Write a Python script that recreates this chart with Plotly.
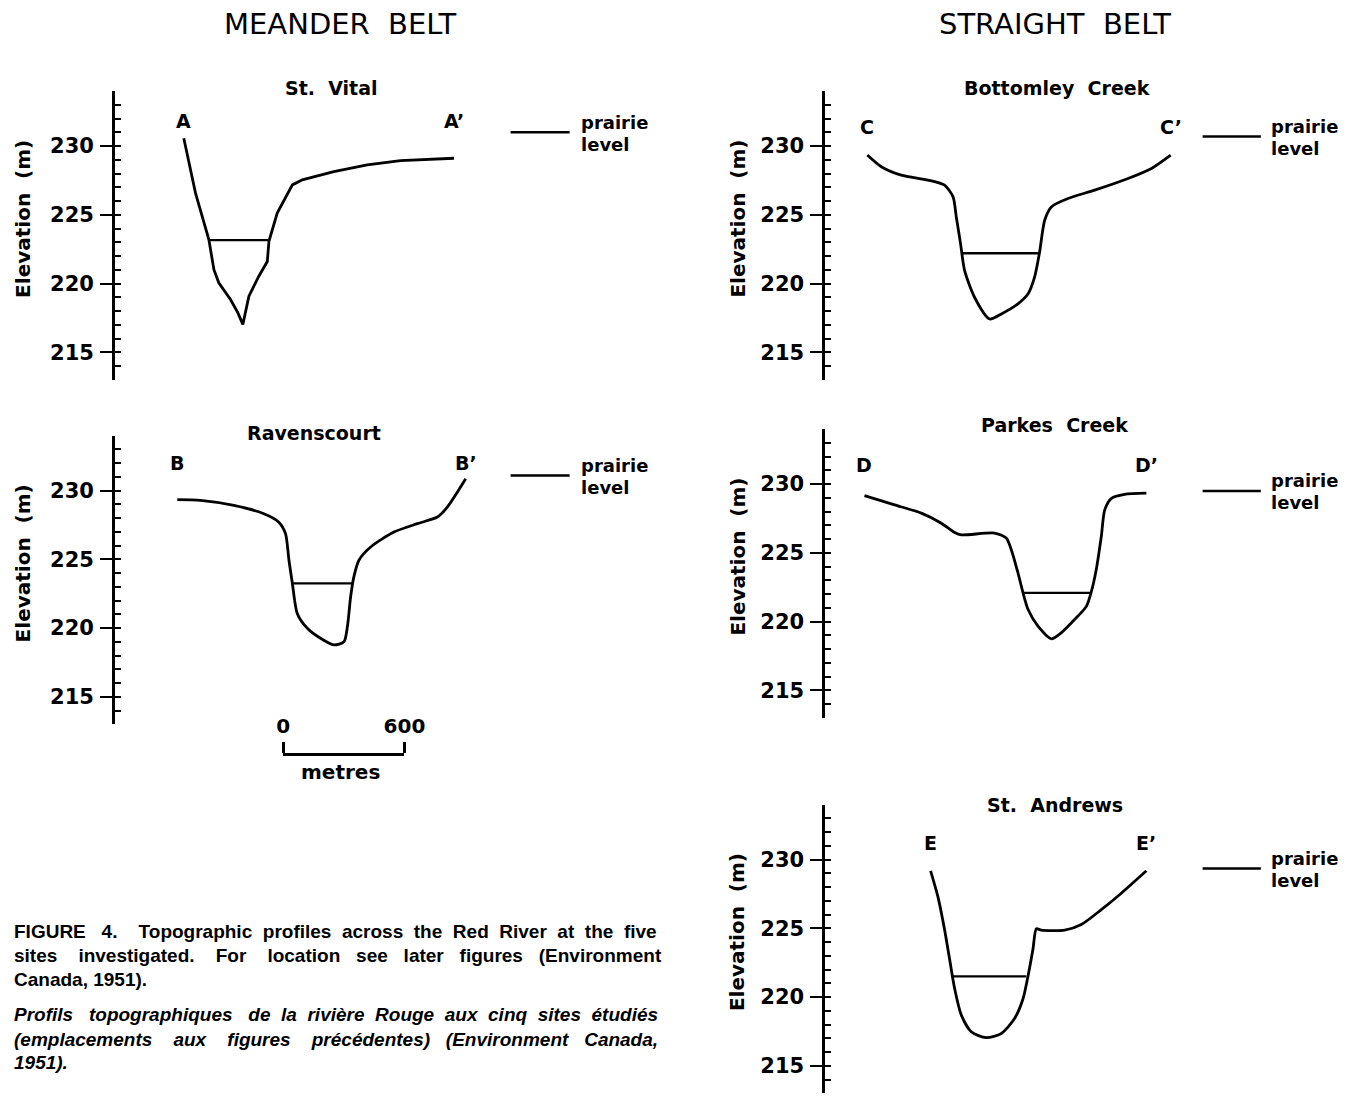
import plotly.graph_objects as go

# ---------------- data ----------------
group_titles = ["MEANDER BELT", "STRAIGHT BELT"]
site_names = ["St. Vital", "Ravenscourt", "Bottomley Creek", "Parkes Creek", "St. Andrews"]
end_labels = [("A", "A’"), ("B", "B’"), ("C", "C’"), ("D", "D’"), ("E", "E’")]

# distance across the section (m) and elevation (m)
st_vital_dist = [340, 398, 464, 489, 513, 571, 607, 632, 662, 711, 753, 761, 802, 877, 926, 1082, 1247, 1412, 1676]
st_vital_elev = [230.56, 226.57, 223.19, 221.0, 220.05, 218.84, 217.88, 217.03, 219.08, 220.53,
                 221.6, 223.07, 225.12, 227.17, 227.54, 228.14, 228.62, 228.94, 229.11]

ravenscourt_dist = [308, 423, 588, 736, 810, 843, 860, 877, 901, 951, 1016, 1082, 1132, 1149, 1165,
                    1181, 1206, 1264, 1379, 1495, 1594, 1643, 1734]
ravenscourt_elev = [229.33, 229.28, 228.91, 228.31, 227.70, 226.86, 224.93, 223.24, 221.06, 219.98,
                    219.25, 218.77, 219.0, 220.1, 222.27, 223.72, 224.93, 225.89, 226.98, 227.59,
                    228.07, 228.79, 230.85]

bottomley_dist = [208, 277, 376, 508, 590, 632, 648, 669, 689, 738, 813, 871, 953, 1003, 1035, 1060,
                  1085, 1118, 1200, 1332, 1497, 1613, 1708]
bottomley_elev = [229.34, 228.49, 227.88, 227.52, 227.15, 226.3, 224.84, 222.9, 220.95, 219.0, 217.42,
                  217.79, 218.52, 219.25, 220.46, 222.29, 224.6, 225.57, 226.18, 226.79, 227.64,
                  228.37, 229.34]

parkes_dist = [194, 343, 475, 574, 640, 673, 837, 895, 920, 953, 978, 1003, 1052, 1118, 1167, 1233,
               1291, 1316, 1340, 1365, 1382, 1415, 1480, 1588]
parkes_elev = [229.15, 228.48, 227.88, 227.15, 226.47, 226.3, 226.43, 226.07, 225.22, 223.53, 222.08,
               220.87, 219.66, 218.74, 219.18, 220.14, 221.1, 222.19, 223.77, 226.18, 228.12, 228.96,
               229.25, 229.33]

st_andrews_dist = [521, 557, 590, 615, 640, 673, 722, 796, 871, 936, 978, 1003, 1027, 1044, 1068,
                   1184, 1266, 1365, 1464, 1588]
st_andrews_elev = [229.18, 227.3, 224.9, 222.74, 220.6, 218.68, 217.47, 217.04, 217.35, 218.43, 219.87,
                   221.55, 223.47, 224.96, 224.86, 224.86, 225.27, 226.35, 227.55, 229.18]

# water surface: [left bank, right bank] distance and elevation
water_dist = [[464, 761], [877, 1181], [678, 1060], [983, 1316], [623, 994]]
water_elev = [223.15, 223.25, 222.2, 222.08, 221.5]

# prairie level elevation at each site
prairie_elev = [231.0, 231.1, 230.7, 229.5, 229.35]

# elevation axis ticks
major_ticks = [215, 220, 225, 230]
minor_ticks = list(range(213, 235))
elev_range = [213, 234]

# scale bar (metres)
scale_ticks = [0, 600]
scale_labels = ["0", "600"]

caption_en = ["FIGURE 4.  Topographic profiles across the Red River at the five",
              "sites investigated. For location see later figures (Environment",
              "Canada, 1951)."]
caption_fr = ["Profils topographiques de la rivière Rouge aux cinq sites étudiés",
              "(emplacements aux figures précédentes) (Environment Canada,",
              "1951)."]

# ---------------- layout constants ----------------
W, H = 1353, 1096
# observed page mapping: screen_x = OX + SX * layout_x ; screen_y = OY + layout_y
SX, OX = 0.979, 14.5
OY = 8.0
PX_PER_M = 121.3 / 600.0
PX_PER_ELEV = 13.75
FONT = "DejaVu Sans"

panels = [
    dict(axis_px=114.5, right_px=600, p230=146.0, label_elev=231.8, title_px=(331, 88),
         elev_title_x=22.5, prairie_x=(1956, 2248), prairie_text_x=2293, shape="linear"),
    dict(axis_px=114.5, right_px=600, p230=490.5, label_elev=232.0, title_px=(313, 433),
         elev_title_x=22.5, prairie_x=(1956, 2248), prairie_text_x=2293, shape="spline"),
    dict(axis_px=824.5, right_px=1300, p230=146.0, label_elev=231.4, title_px=(1056, 88),
         elev_title_x=737, prairie_x=(1866, 2154), prairie_text_x=2194, shape="spline"),
    dict(axis_px=824.5, right_px=1300, p230=484.0, label_elev=231.4, title_px=(1054, 425),
         elev_title_x=737, prairie_x=(1866, 2154), prairie_text_x=2194, shape="spline"),
    dict(axis_px=824.5, right_px=1300, p230=859.5, label_elev=231.2, title_px=(1054, 805),
         elev_title_x=737, prairie_x=(1866, 2154), prairie_text_x=2194, shape="spline"),
]

profiles = [(st_vital_dist, st_vital_elev), (ravenscourt_dist, ravenscourt_elev),
            (bottomley_dist, bottomley_elev), (parkes_dist, parkes_elev),
            (st_andrews_dist, st_andrews_elev)]


def fx(px):
    return ((px - OX) / SX) / W


def fy(py):
    return 1 - (py - OY) / H


def ax_key(letter, n):
    return f"{letter}axis" if n == 1 else f"{letter}axis{n}"


def ax_ref(letter, n):
    return letter if n == 1 else f"{letter}{n}"


fig = go.Figure()
layout = dict(width=W, height=H, margin=dict(l=0, r=0, t=0, b=0),
              paper_bgcolor="white", plot_bgcolor="rgba(0,0,0,0)", showlegend=False)
annotations = []

bold = dict(family=FONT, size=19, color="black", weight="bold")
small_bold = dict(family=FONT, size=18, color="black", weight="bold")

for i, (pan, (dist, elev)) in enumerate(zip(panels, profiles)):
    n = i + 1
    m = n + 5  # overlay axis for minor ticks
    top_px = pan["p230"] - (elev_range[1] - 230) * PX_PER_ELEV
    bot_px = pan["p230"] + (230 - elev_range[0]) * PX_PER_ELEV
    xr = [0, (pan["right_px"] - pan["axis_px"]) / PX_PER_M]

    layout[ax_key("x", n)] = dict(domain=[fx(pan["axis_px"]), fx(pan["right_px"])], range=xr,
                                  visible=False, anchor=ax_ref("y", n), fixedrange=True)
    layout[ax_key("y", n)] = dict(domain=[fy(bot_px), fy(top_px)], range=elev_range,
                                  anchor=ax_ref("x", n), showline=True, linewidth=2.8,
                                  linecolor="black", ticks="outside", ticklen=12, tickwidth=2.4,
                                  tickcolor="black", tickvals=major_ticks,
                                  ticktext=[str(t) for t in major_ticks],
                                  tickfont=dict(family=FONT, size=21, color="black", weight="bold"),
                                  ticklabelstandoff=2, showgrid=False, zeroline=False)
    layout[ax_key("y", m)] = dict(overlaying=ax_ref("y", n), anchor=ax_ref("x", n), side="left",
                                  range=elev_range, ticks="inside", ticklen=6, tickwidth=2.4,
                                  tickcolor="black", tickvals=minor_ticks, showticklabels=False,
                                  showline=False, showgrid=False, zeroline=False)

    # profile
    line_kw = dict(color="black", width=2.8, shape=pan["shape"])
    if pan["shape"] == "spline":
        line_kw["smoothing"] = 0.7
    fig.add_trace(go.Scatter(x=dist, y=elev, mode="lines", line=line_kw, hoverinfo="skip",
                             xaxis=ax_ref("x", n), yaxis=ax_ref("y", n)))
    # water surface
    fig.add_trace(go.Scatter(x=water_dist[i], y=[water_elev[i]] * 2, mode="lines",
                             line=dict(color="black", width=2.3), hoverinfo="skip",
                             xaxis=ax_ref("x", n), yaxis=ax_ref("y", n)))
    # prairie level
    fig.add_trace(go.Scatter(x=list(pan["prairie_x"]), y=[prairie_elev[i]] * 2, mode="lines",
                             line=dict(color="black", width=2.5), hoverinfo="skip",
                             xaxis=ax_ref("x", n), yaxis=ax_ref("y", m)))
    annotations.append(dict(x=pan["prairie_text_x"], y=prairie_elev[i], xref=ax_ref("x", n),
                            yref=ax_ref("y", n), text="prairie", showarrow=False, yshift=10,
                            xanchor="left", yanchor="middle", align="left", font=small_bold))
    annotations.append(dict(x=pan["prairie_text_x"], y=prairie_elev[i], xref=ax_ref("x", n),
                            yref=ax_ref("y", n), text="level", showarrow=False, yshift=-12,
                            xanchor="left", yanchor="middle", align="left", font=small_bold))
    # end labels
    annotations.append(dict(x=dist[0], y=pan["label_elev"], xref=ax_ref("x", n), yref=ax_ref("y", n),
                            text=end_labels[i][0], showarrow=False, xanchor="center",
                            yanchor="middle", font=bold))
    annotations.append(dict(x=dist[-1], y=pan["label_elev"], xref=ax_ref("x", n), yref=ax_ref("y", n),
                            text=end_labels[i][1], showarrow=False, xanchor="center",
                            yanchor="middle", font=bold))
    # site title
    annotations.append(dict(x=fx(pan["title_px"][0]), y=fy(pan["title_px"][1]), xref="paper",
                            yref="paper", text=site_names[i].replace(" ", "\u00a0\u00a0"),
                            showarrow=False, xanchor="center", yanchor="middle", font=bold))
    # elevation axis title
    annotations.append(dict(x=fx(pan["elev_title_x"]), y=224.7, xref="paper", yref=ax_ref("y", n),
                            text="Elevation\u00a0\u00a0(m)", textangle=-90, showarrow=False,
                            xanchor="center", yanchor="middle",
                            font=dict(family=FONT, size=20, color="black", weight="bold")))

# scale bar as its own metre axis
layout["xaxis11"] = dict(domain=[fx(282.5), fx(282.5 + 600 * PX_PER_M)], range=[0, 600],
                         anchor="y11", side="top", showline=True, linewidth=2.8, linecolor="black",
                         ticks="outside", ticklen=11, tickwidth=2.6, tickcolor="black",
                         tickvals=scale_ticks, ticktext=scale_labels, ticklabelstandoff=1,
                         tickfont=dict(family=FONT, size=20, color="black", weight="bold"),
                         showgrid=False, zeroline=False, fixedrange=True)
layout["yaxis11"] = dict(domain=[fy(760), fy(756)], range=[0, 1], visible=False, anchor="x11")
fig.add_trace(go.Scatter(x=scale_ticks, y=[0.5, 0.5], mode="lines", opacity=0,
                         hoverinfo="skip", xaxis="x11", yaxis="y11"))
annotations.append(dict(x=fx(340), y=fy(772), xref="paper", yref="paper", text="metres",
                        showarrow=False, xanchor="center", yanchor="middle",
                        font=dict(family=FONT, size=20, color="black", weight="bold")))

# group headers
for txt, cx in zip(group_titles, [339, 1054]):
    annotations.append(dict(x=fx(cx), y=fy(24), xref="paper", yref="paper",
                            text=txt.replace(" ", "\u00a0\u00a0"), showarrow=False,
                            xanchor="center", yanchor="middle",
                            font=dict(family=FONT, size=29, color="black")))

# caption (justified with non-breaking spaces, Arial Bold / Liberation Sans Bold metrics)
AW = {" ": 278, "(": 333, ")": 333, ",": 278, ".": 278, "1": 556, "4": 556, "5": 556, "9": 556,
      "A": 722, "C": 722, "E": 667, "F": 611, "G": 778, "I": 278, "P": 667, "R": 722, "T": 611,
      "U": 722, "a": 556, "b": 611, "c": 556, "d": 611, "e": 556, "f": 333, "g": 611, "h": 611,
      "i": 278, "j": 278, "k": 556, "l": 278, "m": 889, "n": 611, "o": 611, "p": 611, "q": 611,
      "r": 389, "s": 556, "t": 333, "u": 611, "v": 556, "w": 778, "x": 556, "y": 556, "z": 500,
      "è": 556, "é": 556}
CAP_SIZE = 19
CAP_LEFT, CAP_RIGHT = 13, 661


def justify(line, size, target):
    words = line.split(" ")
    natural = sum(AW.get(c, 556) for c in line) / 1000 * size
    gaps = len(words) - 1
    sp = 0.278 * size
    n_extra = max(0, int((target - natural) / sp))
    out = words[0]
    for g in range(gaps):
        k = n_extra // gaps + (1 if g < n_extra % gaps else 0)
        out += " " + "\u00a0" * k + words[g + 1]
    return out


cap_lines = [(caption_en[0], True, False, 931), (caption_en[1], True, False, 955),
             (caption_en[2], False, False, 979), (caption_fr[0], True, True, 1015),
             (caption_fr[1], True, True, 1039), (caption_fr[2], False, True, 1062)]
for txt, just, ital, ypx in cap_lines:
    t = justify(txt, CAP_SIZE, CAP_RIGHT - CAP_LEFT) if just else txt
    annotations.append(dict(x=fx(CAP_LEFT), y=fy(ypx), xref="paper", yref="paper", text=t,
                            showarrow=False, xanchor="left", yanchor="middle", borderpad=0,
                            font=dict(family="Liberation Sans", size=CAP_SIZE, color="black",
                                      weight="bold", style="italic" if ital else "normal")))

layout["annotations"] = annotations
fig.update_layout(**layout)
fig.write_html("out.html")
